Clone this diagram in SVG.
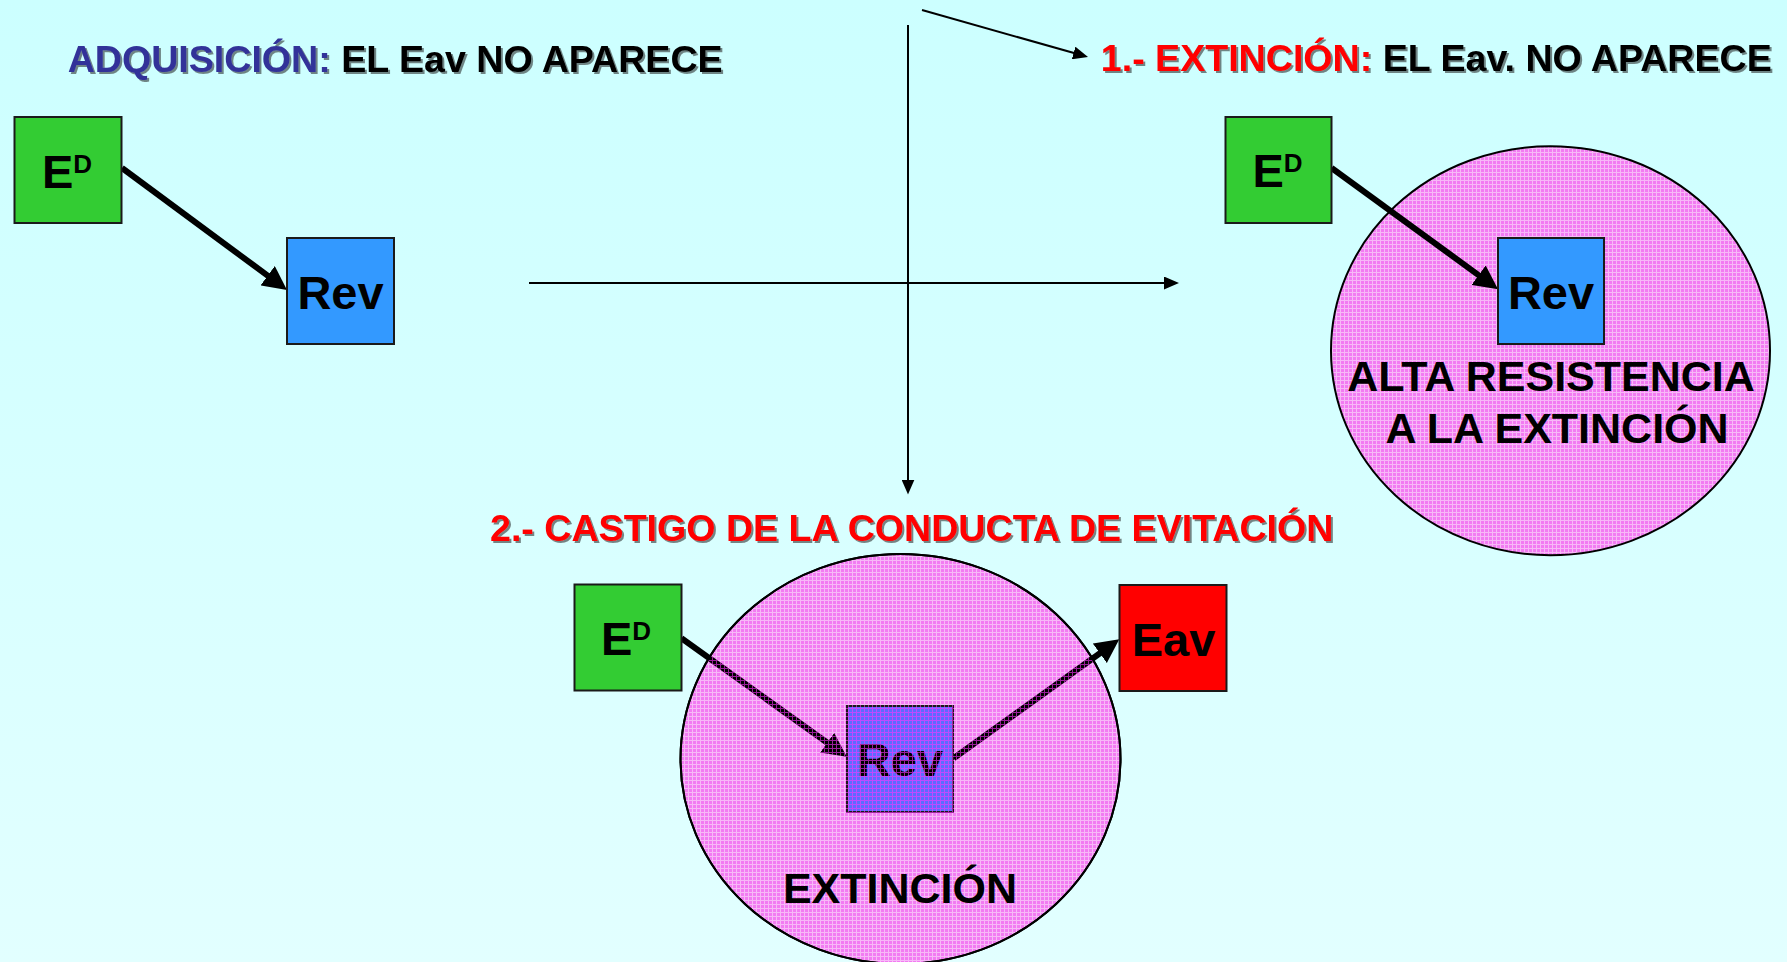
<svg xmlns="http://www.w3.org/2000/svg" width="1787" height="962" viewBox="0 0 1787 962">
<style>
text{font-family:"Liberation Sans",Arial,sans-serif;font-weight:bold}
.title{font-size:37.6px}
.shadow{filter:url(#sh)}
.box{stroke:#1a1a1a;stroke-width:2}
.lbl{font-size:47px;fill:#000}
.sup{font-size:26px}
.thick{stroke:#000;stroke-width:6;fill:none}
.thin{stroke:#000;stroke-width:2;fill:none}
.ell{stroke:#000;stroke-width:2}
.big{font-size:43px;fill:#000;text-anchor:middle}
</style>
<defs>
<linearGradient id="bg" x1="0" y1="0" x2="0" y2="1">
<stop offset="0" stop-color="#CCFFFF"/>
<stop offset="1" stop-color="#E2FFFF"/>
</linearGradient>
<pattern id="gridTop" width="4" height="4" patternUnits="userSpaceOnUse">
<rect width="4" height="4" fill="#F27BF2"/>
<rect x="0" y="0" width="4" height="1" fill="#F7B8F7"/>
<rect x="0" y="0" width="1" height="4" fill="#F7B8F7"/>
</pattern>
<pattern id="gridOver" width="4" height="4" patternUnits="userSpaceOnUse">
<rect x="0" y="0" width="4" height="1" fill="#FF33FF" fill-opacity="0.6"/>
<rect x="0" y="1" width="1" height="3" fill="#FF33FF" fill-opacity="0.6"/>
</pattern>
<marker id="ah" viewBox="0 0 10 10" refX="4" refY="5" markerWidth="4" markerHeight="4" orient="auto" markerUnits="strokeWidth">
<path d="M0,0 L10,5 L0,10 z" fill="#000"/>
</marker>
<marker id="ahw" viewBox="0 0 10 10" refX="4" refY="5" markerWidth="4" markerHeight="4" orient="auto" markerUnits="strokeWidth">
<path d="M0,0 L10,5 L0,10 z" fill="#fff"/>
</marker>
<marker id="ahs" viewBox="0 0 10 10" refX="7" refY="5" markerWidth="15" markerHeight="13" orient="auto" markerUnits="userSpaceOnUse" preserveAspectRatio="none">
<path d="M0,0 L10,5 L0,10 z" fill="#000"/>
</marker>
<mask id="overMask" maskUnits="userSpaceOnUse" x="0" y="0" width="1787" height="962">
<rect x="846" y="705" width="108" height="108" fill="#fff"/>
<line x1="681.5" y1="638.3" x2="835" y2="748.3" stroke="#fff" stroke-width="6" marker-end="url(#ahw)"/>
<line x1="953.6" y1="758.3" x2="1107.6" y2="647.7" stroke="#fff" stroke-width="6" marker-end="url(#ahw)"/>
</mask>
<filter id="sh" x="-5%" y="-20%" width="110%" height="150%">
<feDropShadow dx="2" dy="2" stdDeviation="0.5" flood-color="#222" flood-opacity="0.55"/>
</filter>
</defs>
<rect width="1787" height="962" fill="url(#bg)"/>

<g id="titles">
<text class="title shadow" x="67.7" y="71.7"><tspan fill="#333399">ADQUISICIÓN:</tspan><tspan fill="#000"> EL Eav NO APARECE</tspan></text>
<text class="title shadow" x="1100.8" y="71.4"><tspan fill="#FF0000">1.- EXTINCIÓN:</tspan><tspan fill="#000"> EL Eav. NO APARECE</tspan></text>
<text class="title shadow" x="490" y="541" fill="#FF0000">2.- CASTIGO DE LA CONDUCTA DE EVITACIÓN</text>
</g>

<g id="ellipse-extincion-1">
<ellipse class="ell" cx="1550.5" cy="350.7" rx="219.5" ry="204.5" fill="url(#gridTop)"/>
<text class="big" x="1551" y="391">ALTA RESISTENCIA</text>
<text class="big" x="1557" y="443">A LA EXTINCIÓN</text>
</g>

<g id="ellipse-extincion-2-fill">
<ellipse class="ell" cx="900.5" cy="759" rx="220" ry="205" fill="url(#gridTop)"/>
</g>

<g id="connectors">
<line class="thick" x1="122" y1="168" x2="275.4" y2="281.4" marker-end="url(#ah)"/>
<line class="thick" x1="1331.6" y1="168" x2="1486.4" y2="280.8" marker-end="url(#ah)"/>
<line class="thick" x1="681.5" y1="638.3" x2="835" y2="748.3" marker-end="url(#ah)"/>
<line class="thick" x1="953.6" y1="758.3" x2="1107.6" y2="647.7" marker-end="url(#ah)"/>
<line class="thin" x1="529" y1="283" x2="1174.5" y2="283" marker-end="url(#ahs)"/>
<line class="thin" x1="908" y1="25" x2="908" y2="490" marker-end="url(#ahs)"/>
<line class="thin" x1="922" y1="10" x2="1083.7" y2="55.8" marker-end="url(#ahs)"/>
</g>

<g id="ed-1">
<rect class="box" x="14.5" y="117" width="107" height="106" fill="#33CC33"/>
<text class="lbl" x="42" y="188">E<tspan class="sup" dy="-15">D</tspan></text>
</g>
<g id="rev-1">
<rect class="box" x="287" y="238" width="107" height="106" fill="#3399FF"/>
<text class="lbl" x="340.5" y="309" text-anchor="middle">Rev</text>
</g>

<g id="ed-2">
<rect class="box" x="1225.5" y="117" width="106" height="106" fill="#33CC33"/>
<text class="lbl" x="1252.5" y="186.5">E<tspan class="sup" dy="-15">D</tspan></text>
</g>
<g id="rev-2">
<rect class="box" x="1498" y="238" width="106" height="106" fill="#3399FF"/>
<text class="lbl" x="1551" y="309" text-anchor="middle">Rev</text>
</g>

<g id="ed-3">
<rect class="box" x="574.5" y="584.5" width="107" height="106" fill="#33CC33"/>
<text class="lbl" x="601" y="655">E<tspan class="sup" dy="-15">D</tspan></text>
</g>
<g id="eav">
<rect class="box" x="1119.5" y="585" width="107" height="106" fill="#FF0000"/>
<text class="lbl" x="1173.5" y="656" text-anchor="middle" font-size="49">Eav</text>
</g>
<g id="rev-3">
<rect class="box" x="847" y="706" width="106" height="106" fill="#5C6BFF"/>
<text class="lbl" x="900" y="776" text-anchor="middle" fill="#3a0a50">Rev</text>
</g>

<g id="ellipse-extincion-2">
<ellipse cx="900.5" cy="759" rx="220" ry="205" fill="url(#gridOver)" mask="url(#overMask)"/>
<ellipse class="ell" cx="900.5" cy="759" rx="220" ry="205" fill="none"/>
<text class="big" x="900" y="903">EXTINCIÓN</text>
</g>
</svg>
